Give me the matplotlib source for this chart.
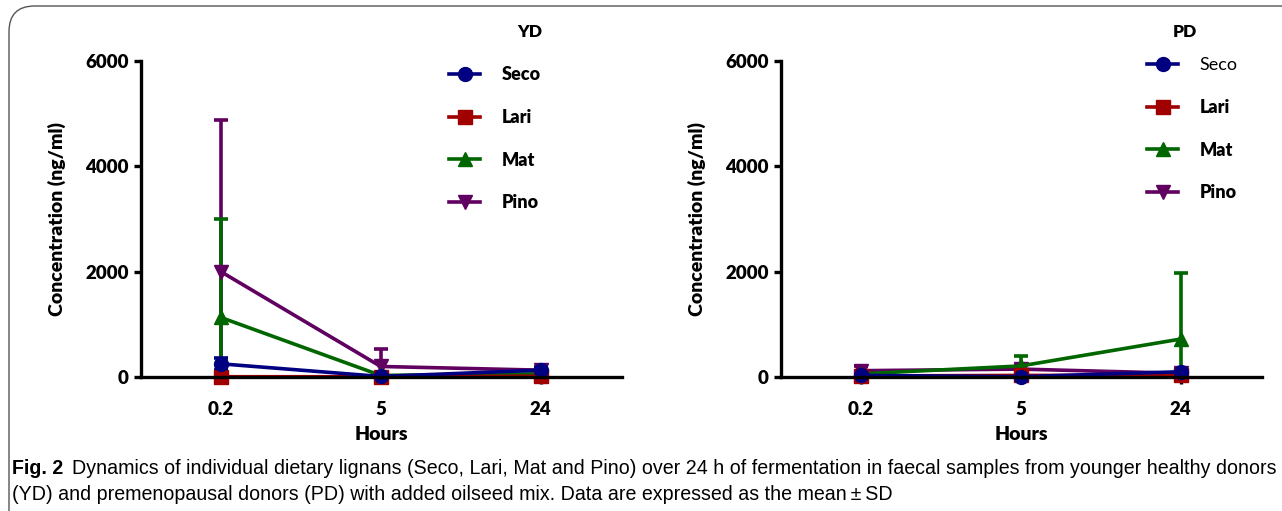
import matplotlib
matplotlib.use('Agg')
import matplotlib.pyplot as plt
import numpy as np
from matplotlib.patches import FancyBboxPatch

plt.rcParams['font.family'] = ['Lato', 'DejaVu Sans']

hours = ['0.2', '5', '24']
series = ['Seco', 'Lari', 'Mat', 'Pino']

# YD (younger healthy donors): mean and SD (ng/ml)
yd_mean = {'Seco': [250, 10, 130], 'Lari': [5, 5, 15], 'Mat': [1130, 30, 60], 'Pino': [2000, 200, 130]}
yd_sd = {'Seco': [120, 20, 40], 'Lari': [5, 5, 10], 'Mat': [1870, 30, 40], 'Pino': [2880, 330, 60]}

# PD (premenopausal donors)
pd_mean = {'Seco': [30, 5, 100], 'Lari': [20, 30, 30], 'Mat': [60, 210, 720], 'Pino': [120, 150, 70]}
pd_sd = {'Seco': [20, 10, 60], 'Lari': [10, 10, 10], 'Mat': [30, 180, 1250], 'Pino': [80, 80, 30]}

colors = {'Seco': '#000080', 'Lari': '#a00000', 'Mat': '#006600', 'Pino': '#600060'}
markers = {'Seco': 'o', 'Lari': 's', 'Mat': '^', 'Pino': 'v'}

caption_bold = 'Fig. 2'
caption_1 = ('Dynamics of individual dietary lignans (Seco, Lari, Mat and Pino) over 24 h of fermentation '
             'in faecal samples from younger healthy donors')
caption_2 = '(YD) and premenopausal donors (PD) with added oilseed mix. Data are expressed as the mean\u2009\u00b1\u2009SD'

W, H = 1282, 511
fig = plt.figure(figsize=(W / 100, H / 100), dpi=100)

# rounded frame around the figure
frame = FancyBboxPatch((9 / W, -0.2), 1.2, 1.2 - 6 / H, boxstyle='round,pad=0,rounding_size=0.02',
                       transform=fig.transFigure, fill=False, ec='#555555', lw=1.0, mutation_aspect=W / H)
fig.patches.append(frame)


def panel(x0, means, sds, title, title_x, legend_x, legend_y, seco_regular=False):
    ax = fig.add_axes([x0 / W, 1 - 377 / H, 481 / W, 316 / H])
    x = np.arange(len(hours))
    handles = {}
    for name in reversed(series):
        m = np.array(means[name], dtype=float)
        s = np.array(sds[name], dtype=float)
        lower = np.minimum(s, m)
        h = ax.errorbar(x, m, yerr=[lower, s], color=colors[name], marker=markers[name],
                        ms=10, lw=2.6, elinewidth=2.6, capsize=5, capthick=2.6, clip_on=False)
        handles[name] = h[0]
    ax.set_xlim(-0.5, 2.51)
    ax.set_ylim(0, 6000)
    ax.set_xticks(x)
    ax.set_xticklabels(hours)
    ax.set_yticks([0, 2000, 4000, 6000])
    for sp in ['top', 'right']:
        ax.spines[sp].set_visible(False)
    for sp in ['left', 'bottom']:
        ax.spines[sp].set_linewidth(2.4)
    ax.tick_params(width=2.4, length=5, labelsize=13.5, pad=4)
    for lab in ax.get_xticklabels() + ax.get_yticklabels():
        lab.set_fontweight('heavy')
    ax.xaxis.set_tick_params(pad=12)
    ax.set_xlabel('Hours', fontsize=14, fontweight='heavy', labelpad=6)
    ax.set_ylabel('Concentration (ng/ml)', fontsize=14, fontweight='heavy', labelpad=14)
    fig.text(title_x / W, 1 - 32 / H, title, fontsize=12.5, fontweight='heavy', ha='center', va='center')
    leg = ax.legend([handles[n] for n in series], series, loc='upper left',
                    bbox_to_anchor=(legend_x / W, 1 - legend_y / H), bbox_transform=fig.transFigure,
                    frameon=False, handlelength=1.7, handletextpad=1.2, labelspacing=1.42,
                    prop={'weight': 'heavy', 'size': 13})
    if seco_regular:
        leg.get_texts()[0].set_fontweight('normal')
    return ax


panel(141, yd_mean, yd_sd, 'YD', 530, 433, 50)
panel(781, pd_mean, pd_sd, 'PD', 1185, 1131, 41, seco_regular=True)

cap_family = ['Liberation Sans', 'DejaVu Sans']
t1 = fig.text(12 / W, 1 - 468 / H, caption_bold, fontsize=13, fontweight='bold', family=cap_family, va='center')
t2 = fig.text(0, 1 - 468 / H, caption_1, fontsize=13, family=cap_family, va='center')
t3 = fig.text(12 / W, 1 - 494 / H, caption_2, fontsize=13, family=cap_family, va='center')
fig.canvas.draw()
# shrink the caption so the first line fits the width of the frame
total = t1.get_window_extent().width + 8 + t2.get_window_extent().width
scale = 1256 / total
for t in (t1, t2, t3):
    t.set_fontsize(13 * scale)
fig.canvas.draw()
bb = t1.get_window_extent()
t2.set_x((bb.x1 + 8 * scale) / W)

fig.savefig('out.png', dpi=100)
